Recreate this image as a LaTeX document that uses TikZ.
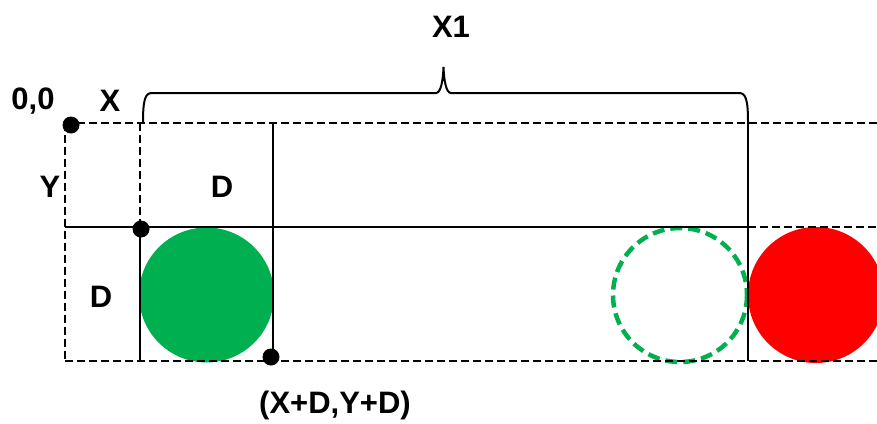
\documentclass[tikz,border=0pt]{standalone}
\usepackage{fontspec}
\setmainfont{Liberation Sans}
\definecolor{ogreen}{RGB}{0,176,80}
\definecolor{ored}{RGB}{255,0,0}
\begin{document}
\begin{tikzpicture}[x=1pt,y=-1pt,
  gridd/.style={line width=2.6pt,dash pattern=on 8pt off 4pt},
  grids/.style={line width=2.6pt},
  dotc/.style={circle,fill=black,inner sep=0pt,minimum size=17pt},
  lbl/.style={font=\bfseries\fontsize{31}{36}\selectfont,inner sep=0pt},
  brc/.style={line width=2pt}]
\useasboundingbox (0,0) rectangle (877,423);
\clip (0,0) rectangle (877,423);
% circles
\fill[ogreen] (206.5,295) circle (67.5);
\draw[ogreen,line width=4.5pt,dash pattern=on 12pt off 6pt] (680,295) circle (67);
\fill[ored] (816,295) circle (68);
% coordinates
\coordinate (tl) at (65,123);
\coordinate (tr) at (877,123);
\coordinate (ml) at (65,227);
\coordinate (mr) at (877,227);
\coordinate (bl) at (65,361);
\coordinate (br) at (877,361);
\coordinate (v1t) at (140,123);
\coordinate (v1m) at (140,227);
\coordinate (v1b) at (140,361);
\coordinate (v2t) at (273,123);
\coordinate (v2b) at (273,361);
\coordinate (v3t) at (748,123);
\coordinate (v3m) at (748,227);
\coordinate (v3b) at (748,361);
% lines
\draw[gridd] (tl) -- (tr);
\draw[grids] (ml) -- (v3m);
\draw[gridd] (v3m) -- (mr);
\draw[gridd] (bl) -- (br);
\draw[gridd] (tl) -- (bl);
\draw[gridd] (v1t) -- (v1m);
\draw[grids] (v1m) -- (v1b);
\draw[grids] (v2t) -- (v2b);
\draw[grids] (v3t) -- (v3b);
% brace
\draw[brc] (143,123) .. controls (143,100) and (145,93) .. (152,93) -- (436,93)
  .. controls (441,93) and (443,80) .. (443.5,67)
  .. controls (444,80) and (446,93) .. (451,93) -- (739,93)
  .. controls (746,93) and (748,100) .. (748,123);
% dots
\node[dotc] (d0) at (71,125) {};
\node[dotc] (d1) at (141,229) {};
\node[dotc] (d2) at (271,357) {};
% labels
\node[lbl] (l00) at (33,101) {0,0};
\node[lbl] (lx) at (110,101) {X};
\node[lbl] (ly) at (50,187) {Y};
\node[lbl] (ld1) at (222,187) {D};
\node[lbl] (ld2) at (101,297) {D};
\node[lbl] (lxy) at (335,405) {(X+D,Y+D)};
\node[lbl] (lx1) at (451,27) {X1};
\end{tikzpicture}
\end{document}
